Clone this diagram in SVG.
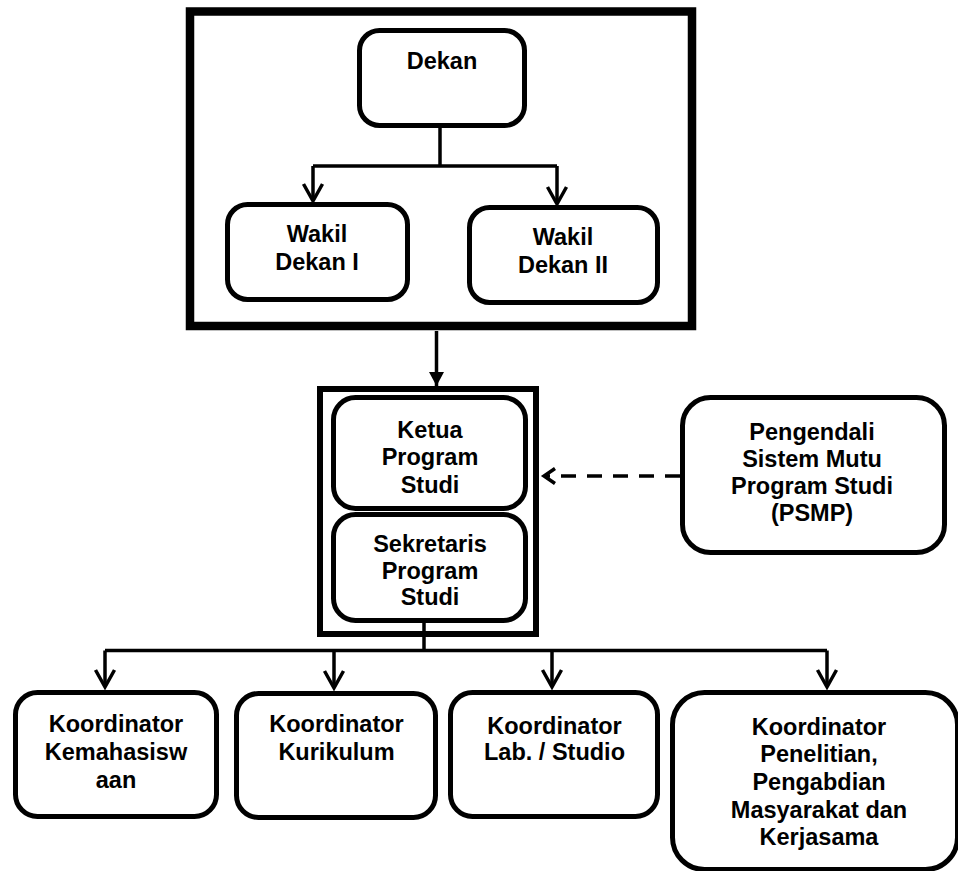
<svg xmlns="http://www.w3.org/2000/svg" width="958" height="871" viewBox="0 0 958 871">
<style>
  .box{fill:#fff;stroke:#000;stroke-width:5}
  .frame{fill:none;stroke:#000}
  .ln{fill:none;stroke:#000;stroke-width:3.5}
  .t{font-family:"Liberation Sans",Arial,sans-serif;font-weight:bold;font-size:23.5px;text-anchor:middle;fill:#000}
</style>
<defs>
  <marker id="open" markerUnits="userSpaceOnUse" orient="auto" overflow="visible" refX="0" refY="0" markerWidth="20" markerHeight="20">
    <path d="M-17,-9.5 L0,0 L-17,9.5" fill="none" stroke="#000" stroke-width="3.5"/>
  </marker>
  <marker id="filled" markerUnits="userSpaceOnUse" orient="auto" overflow="visible" refX="0" refY="0" markerWidth="20" markerHeight="20">
    <path d="M-14,-7.5 L0,0 L-14,7.5 Z" fill="#000"/>
  </marker>
  <marker id="small" markerUnits="userSpaceOnUse" orient="auto" overflow="visible" refX="0" refY="0" markerWidth="20" markerHeight="20">
    <path d="M-11,-7.5 L0,0 L-11,7.5" fill="none" stroke="#000" stroke-width="3.5"/>
  </marker>
</defs>
<rect width="958" height="871" fill="#fff"/>

<g id="frame-pimpinan">
  <rect class="frame" x="190" y="11.5" width="502" height="314.5" stroke-width="8.5"/>
</g>
<g id="frame-prodi">
  <rect class="frame" x="320" y="389" width="216" height="245" stroke-width="6"/>
</g>

<g id="connectors">
  <path class="ln" d="M440,128 V166"/>
  <path class="ln" d="M313,166 H557"/>
  <path class="ln" d="M313,166 V201" marker-end="url(#open)"/>
  <path class="ln" d="M557,166 V204" marker-end="url(#open)"/>
  <path class="ln" d="M436.5,331 V386" marker-end="url(#filled)"/>
  <path class="ln" d="M680,476 H544" stroke-dasharray="15 11" marker-end="url(#small)"/>
  <path class="ln" d="M424,623 V650.5"/>
  <path class="ln" d="M105,650.5 H827"/>
  <path class="ln" d="M105,650.5 V687" marker-end="url(#open)"/>
  <path class="ln" d="M334,650.5 V688" marker-end="url(#open)"/>
  <path class="ln" d="M552,650.5 V687" marker-end="url(#open)"/>
  <path class="ln" d="M827,650.5 V687" marker-end="url(#open)"/>
</g>

<g id="dekan">
  <rect class="box" x="359.5" y="30.5" width="165" height="95" rx="20"/>
  <text class="t" x="442" y="69">Dekan</text>
</g>
<g id="wakil-dekan-1">
  <rect class="box" x="227.5" y="204.5" width="180" height="95" rx="20"/>
  <text class="t" x="317" y="242">Wakil</text>
  <text class="t" x="317" y="269.5">Dekan I</text>
</g>
<g id="wakil-dekan-2">
  <rect class="box" x="469.5" y="207.5" width="188" height="95" rx="20"/>
  <text class="t" x="563" y="245">Wakil</text>
  <text class="t" x="563" y="272.5">Dekan II</text>
</g>

<g id="ketua-prodi">
  <rect class="box" x="333.5" y="397.5" width="192" height="111" rx="22" stroke-width="5.5"/>
  <text class="t" x="430" y="438">Ketua</text>
  <text class="t" x="430" y="465">Program</text>
  <text class="t" x="430" y="493">Studi</text>
</g>
<g id="sekretaris-prodi">
  <rect class="box" x="333.5" y="514.5" width="192" height="106" rx="22" stroke-width="5.5"/>
  <text class="t" x="430" y="552">Sekretaris</text>
  <text class="t" x="430" y="578.5">Program</text>
  <text class="t" x="430" y="605">Studi</text>
</g>

<g id="psmp">
  <rect class="box" x="682.5" y="397.5" width="262" height="155" rx="28"/>
  <text class="t" x="812" y="440">Pengendali</text>
  <text class="t" x="812" y="467">Sistem Mutu</text>
  <text class="t" x="812" y="494">Program Studi</text>
  <text class="t" x="812" y="521">(PSMP)</text>
</g>

<g id="koord-kemahasiswaan">
  <rect class="box" x="15.5" y="692.5" width="201" height="124" rx="22"/>
  <text class="t" x="116" y="731.5">Koordinator</text>
  <text class="t" x="116" y="760">Kemahasisw</text>
  <text class="t" x="116" y="788">aan</text>
</g>
<g id="koord-kurikulum">
  <rect class="box" x="236.5" y="693.5" width="199" height="124" rx="22"/>
  <text class="t" x="336.5" y="732">Koordinator</text>
  <text class="t" x="336.5" y="760">Kurikulum</text>
</g>
<g id="koord-lab">
  <rect class="box" x="450.5" y="692.5" width="207" height="124" rx="22"/>
  <text class="t" x="554.5" y="734">Koordinator</text>
  <text class="t" x="554.5" y="760">Lab. / Studio</text>
</g>
<g id="koord-penelitian">
  <rect class="box" x="672.5" y="692.5" width="285" height="177" rx="32"/>
  <text class="t" x="819" y="735">Koordinator</text>
  <text class="t" x="819" y="762">Penelitian,</text>
  <text class="t" x="819" y="790">Pengabdian</text>
  <text class="t" x="819" y="818">Masyarakat dan</text>
  <text class="t" x="819" y="845">Kerjasama</text>
</g>
</svg>
